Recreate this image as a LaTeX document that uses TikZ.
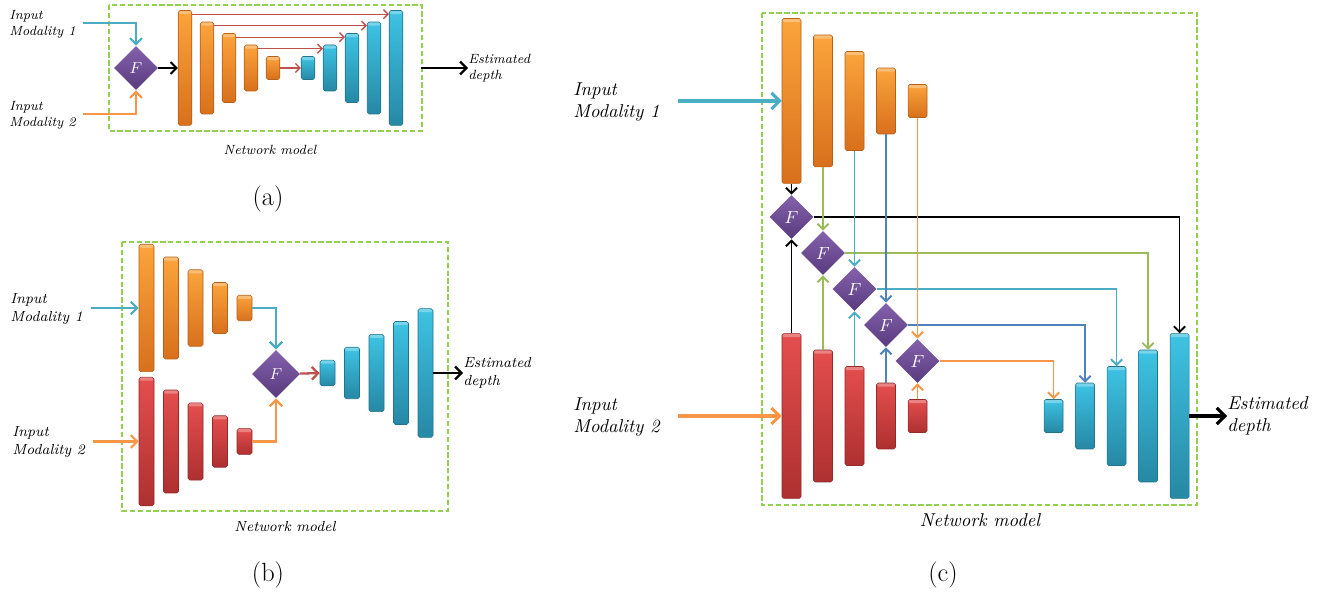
\documentclass[tikz,border=0pt]{standalone}
\usepackage{amsmath}
\usepackage{xcolor}
\usetikzlibrary{arrows.meta}
\usetikzlibrary{shapes.geometric}
\definecolor{EncTop}{HTML}{FBA43C}
\definecolor{EncBot}{HTML}{D8701C}
\definecolor{SecTop}{HTML}{E44E4E}
\definecolor{SecBot}{HTML}{AE3030}
\definecolor{DecTop}{HTML}{3EC3E4}
\definecolor{DecBot}{HTML}{2688A4}
\definecolor{FuseTop}{HTML}{8462AC}
\definecolor{FuseBot}{HTML}{583A7E}
\definecolor{BoxGreen}{HTML}{92D050}
\definecolor{LinkCyan}{HTML}{4BACC6}
\definecolor{LinkOrange}{HTML}{F79646}
\definecolor{LinkRed}{HTML}{C0504D}
\definecolor{LinkGreen}{HTML}{9BBB59}
\definecolor{LinkBlue}{HTML}{4F81BD}
\tikzset{
  bar/.style={rectangle, rounded corners=1pt, inner sep=0pt, line width=0.3pt,
    path picture={\fill[white, opacity=0.3] (path picture bounding box.north west)
      rectangle ([yshift=-2pt]path picture bounding box.north east);}},
  encbar/.style={bar, draw=EncBot!85!black, top color=EncTop, bottom color=EncBot},
  secbar/.style={bar, draw=SecBot!85!black, top color=SecTop, bottom color=SecBot},
  decbar/.style={bar, draw=DecBot!85!black, top color=DecTop, bottom color=DecBot},
  fuse/.style={diamond, aspect=1, inner sep=0pt, top color=FuseTop, bottom color=FuseBot, text=white},
  netbox/.style={draw=BoxGreen, line width=1pt, dash pattern=on 3pt off 1.5pt},
  wire/.style={line width=#1, -{Straight Barb[length=1pt 2, width=2pt 4]}},
  wire/.default=0.8pt,
  txta/.style={font=\fontsize{7.6}{9.1}\selectfont\itshape, align=left, inner sep=0pt},
  txtb/.style={font=\fontsize{8.3}{10}\selectfont\itshape, align=left, inner sep=0pt},
  txtc/.style={font=\fontsize{10.6}{12.6}\selectfont\itshape, align=left, inner sep=0pt},
  caption/.style={font=\fontsize{15}{18}\selectfont},
}

\begin{document}
\begin{tikzpicture}[x=0.02cm, y=-0.02cm]
  \useasboundingbox (0,0) rectangle (1325,594);

  % (a) fusion before the encoder
  \draw[netbox] (109,5) rectangle (422,131);
  \node[fuse, minimum size=0.88cm, font=\fontsize{9}{10}\selectfont] (a-f) at (136,68) {$F$};
  \foreach \i in {1,...,5}{%
    \node[encbar, minimum width=0.27cm, minimum height={(6-\i)*0.46cm}] (a-e\i) at ({163+22*\i},68) {};
    \node[decbar, minimum width=0.27cm, minimum height={\i*0.46cm}] (a-d\i) at ({286+22*\i},68) {};
  }
  \node[txta, anchor=west] (a-txt1) at (9,24) {Input\\Modality 1};
  \node[txta, anchor=west] (a-txt2) at (9,115) {Input\\Modality 2};
  \coordinate (a-in1) at (83,23);
  \coordinate (a-in2) at (83,114);
  \draw[wire=1.2pt, LinkCyan] (a-in1) -| (a-f);
  \draw[wire=1.2pt, LinkOrange] (a-in2) -| (a-f);
  \draw[wire=1.2pt] (a-f) -- (a-e1);
  \foreach \i/\j in {1/5,2/4,3/3,4/2}{%
    \draw[wire=0.8pt, LinkRed] ([yshift=-0.08cm]a-e\i.north east)
      -- ([yshift=-0.08cm]a-d\j.north west);
  }
  \draw[wire=0.8pt, LinkRed] (a-e5) -- (a-d1);
  \coordinate (a-out) at (421,68);
  \node[txta, anchor=west] (a-depth) at (468,68) {Estimated\\depth};
  \draw[wire=1.3pt] (a-out) -- (a-depth.west);
  \node[txta] (a-net) at (270,150) {Network model};
  \node[caption] (a-cap) at (268,199) {(a)};

  % (b) two encoders, fusion at the bottleneck
  \draw[netbox] (122,242) rectangle (448,511);
  \foreach \i in {1,...,5}{%
    \node[encbar, minimum width=0.3cm, minimum height={(6-\i)*0.51cm}] (b-e\i) at ({122+24.5*\i},308) {};
    \node[secbar, minimum width=0.3cm, minimum height={(6-\i)*0.515cm}] (b-r\i) at ({122+24.5*\i},441.5) {};
    \node[decbar, minimum width=0.3cm, minimum height={\i*0.515cm}] (b-d\i) at ({303+24.5*\i},373) {};
  }
  \node[fuse, minimum size=0.96cm, font=\fontsize{9.5}{10}\selectfont] (b-f) at (276,374) {$F$};
  \node[txtb, anchor=west] (b-txt1) at (10,309) {Input\\Modality 1};
  \node[txtb, anchor=west] (b-txt2) at (12,442) {Input\\Modality 2};
  \coordinate (b-in1) at (91,308);
  \coordinate (b-in2) at (93,441.5);
  \draw[wire=1.3pt, LinkCyan] (b-in1) -- (b-e1);
  \draw[wire=1.3pt, LinkOrange] (b-in2) -- (b-r1);
  \draw[wire=1.3pt, LinkCyan] (b-e5) -| (b-f);
  \draw[wire=1.3pt, LinkOrange] (b-r5) -| (b-f);
  \draw[wire=1.3pt, LinkRed] (b-f) -- (b-d1);
  \node[txtb, anchor=west] (b-depth) at (463,373) {Estimated\\depth};
  \draw[wire=1.3pt] (b-d5) -- (b-depth.west);
  \node[txtb] (b-net) at (285,527) {Network model};
  \node[caption] (b-cap) at (268,575) {(b)};

  % (c) two encoders, fusion at every scale
  \draw[netbox] (762,13) rectangle (1197,505);
  \foreach \i in {1,...,5}{%
    \node[encbar, minimum width=0.38cm, minimum height={(6-\i)*0.66cm}] (c-e\i) at ({760+31.5*\i},101) {};
    \node[secbar, minimum width=0.38cm, minimum height={(6-\i)*0.66cm}] (c-r\i) at ({760+31.5*\i},416) {};
    \node[decbar, minimum width=0.38cm, minimum height={\i*0.66cm}] (c-d\i) at ({1022+31.5*\i},416) {};
    \node[fuse, minimum size=0.88cm, font=\fontsize{10}{11}\selectfont] (c-f\i) at ({760+31.5*\i},{181+36*\i}) {$F$};
  }
  \foreach \i/\c in {1/black,2/LinkGreen,3/LinkCyan,4/LinkBlue,5/LinkOrange}{%
    \pgfmathtruncatemacro{\j}{6-\i}
    \draw[wire=1.1pt, \c] (c-e\i) -- (c-f\i);
    \draw[wire=1.1pt, \c] (c-r\i) -- (c-f\i);
    \draw[wire=1.1pt, \c] (c-f\i) -| (c-d\j);
  }
  \node[txtc, anchor=west] (c-txt1) at (573,102) {Input\\Modality 1};
  \node[txtc, anchor=west] (c-txt2) at (573,417) {Input\\Modality 2};
  \coordinate (c-in1) at (678,101);
  \coordinate (c-in2) at (678,416);
  \draw[wire=1.8pt, LinkCyan] (c-in1) -- (c-e1);
  \draw[wire=1.8pt, LinkOrange] (c-in2) -- (c-r1);
  \node[txtc, anchor=west] (c-depth) at (1227,416) {Estimated\\depth};
  \draw[wire=1.8pt] (c-d5) -- (c-depth.west);
  \node[txtc] (c-net) at (980,520) {Network model};
  \node[caption] (c-cap) at (943,575) {(c)};
\end{tikzpicture}
\end{document}
